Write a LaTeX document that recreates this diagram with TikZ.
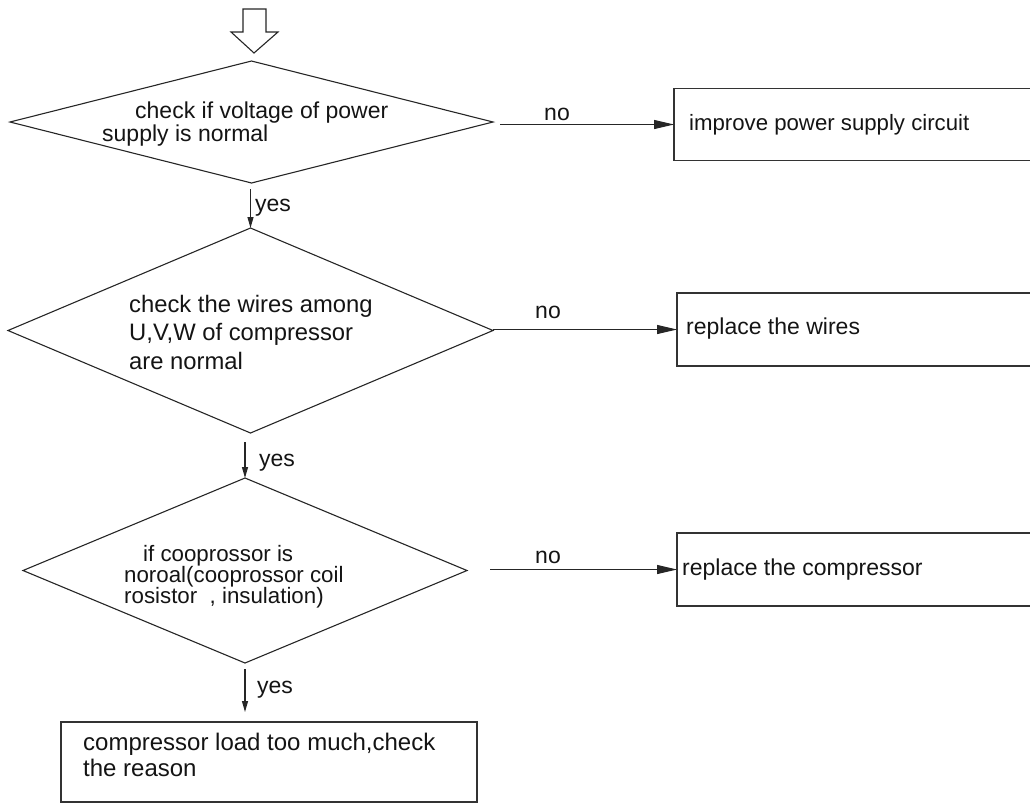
\documentclass[tikz,border=0pt]{standalone}
\usepackage{fontspec}
\setmainfont{Liberation Sans}
\usetikzlibrary{shapes.geometric,arrows.meta,calc}
\begin{document}
\begin{tikzpicture}[x=1pt,y=-1pt,
  every node/.style={font=\fontsize{23pt}{23pt}\selectfont, text=black!92},
  line/.style={draw=black!85, line width=1.1pt},
  decision/.style={diamond, draw=black!85, line width=1.1pt, inner sep=0pt, outer sep=0pt},
  action/.style={rectangle, draw=black!80, line width=1.4pt, inner sep=0pt, outer sep=0pt,
                 anchor=north west},
  txt/.style={inner sep=0pt, align=left, anchor=west},
  lab/.style={inner sep=0pt},
  noarrow/.style={line, -{Triangle[length=20pt,width=9pt]}},
  yesarrow/.style={line, -{Triangle[length=11pt,width=6pt]}},
]
\useasboundingbox (0,0) rectangle (1030,804);
\clip (0,0) rectangle (1030,804);

% entry arrow
\draw[line, fill=white] (243,9) -- (266,9) -- (266,32) -- (278,32) -- (254,53)
  -- (231,32) -- (243,32) -- cycle;

% decisions
\node[decision, minimum width=483pt, minimum height=122pt] (d1) at (251.5,122) {};
\node[txt] (d1t) at (102,124.5)
  {\hspace*{33pt}check if voltage of power\\supply is normal};

\node[decision, minimum width=485pt, minimum height=205pt] (d2) at (250.5,330.5) {};
\node[txt, font=\fontsize{23.8pt}{28.5pt}\selectfont] (d2t) at (129,332)
  {check the wires among\\U,V,W of compressor\\are normal};

\node[decision, minimum width=444pt, minimum height=185pt] (d3) at (245,570.5) {};
\node[txt, font=\fontsize{22.3pt}{21pt}\selectfont] (d3t) at (124,577)
  {\hspace*{19pt}if cooprossor is\\noroal(cooprossor coil\\rosistor\ \ , insulation)};

% actions (the right-hand boxes run off the right edge)
\node[action, minimum width=420pt, minimum height=72pt] (b1) at (674,88.5) {};
\node[txt, font=\fontsize{22.2pt}{22.2pt}\selectfont] (b1t) at (689,125)
  {improve power supply circuit};
\node[action, minimum width=420pt, minimum height=73pt] (b2) at (677,293) {};
\node[txt] (b2t) at (686,329) {replace the wires};
\node[action, minimum width=420pt, minimum height=73pt] (b3) at (677,533) {};
\node[txt] (b3t) at (682,570) {replace the compressor};
\node[action, line width=2pt, minimum width=416pt, minimum height=80pt] (b4) at (61,722) {};
\node[txt, font=\fontsize{24pt}{26pt}\selectfont] (b4t) at (83,755)
  {compressor load too much,check\\the reason};

% "no" branches
\draw[noarrow] ([xshift=7pt]d1.east |- b1.west) -- (b1.west);
\draw[noarrow] (d2.east |- b2.west) -- (b2.west);
\draw[noarrow] ([xshift=23pt]d3.east |- b3.west) -- (b3.west);
\node[lab] (no1) at (557,114) {no};
\node[lab] (no2) at (548,312) {no};
\node[lab] (no3) at (548,557) {no};

% "yes" branches
\coordinate (y1s) at ([yshift=-6pt]d1.south);
\coordinate (y2s) at ([yshift=-9pt]d2.south);
\coordinate (y3s) at ([yshift=-6pt]d3.south);
\draw[yesarrow] (y1s -| d2.north) -- (d2.north);
\draw[yesarrow] (y2s -| d3.north) -- (d3.north);
\draw[yesarrow] (y3s) -- ($(y3s |- b4.north)+(0,-10)$);
\node[lab] (yes1) at (273,208) {yes};
\node[lab] (yes2) at (277,463) {yes};
\node[lab] (yes3) at (275,690) {yes};
\end{tikzpicture}
\end{document}
